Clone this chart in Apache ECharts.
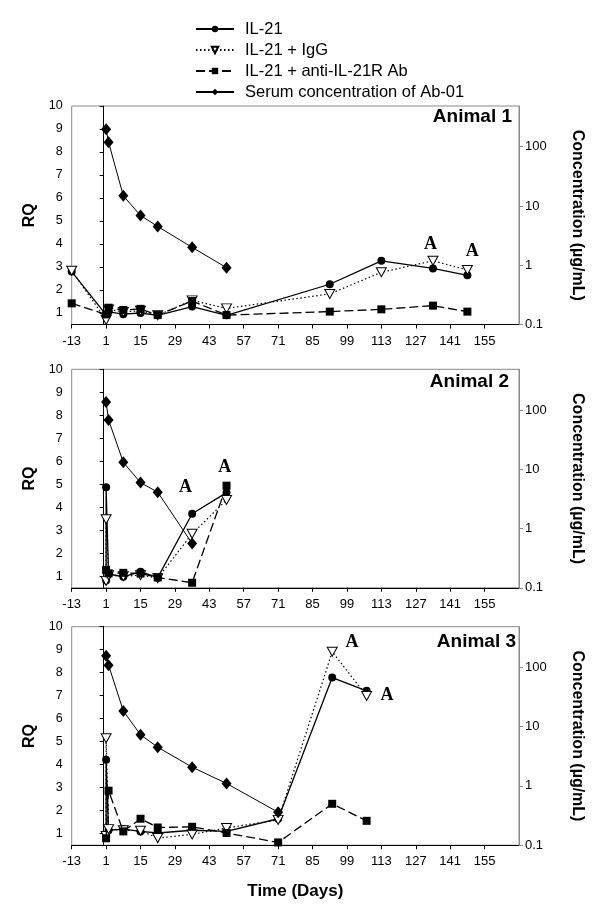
<!DOCTYPE html>
<html>
<head>
<meta charset="utf-8">
<script src="https://cdn.jsdelivr.net/npm/echarts@6/dist/echarts.min.js"></script>
<style>
html, body { margin: 0; padding: 0; background: #fff; }
#chart { width: 600px; height: 917px; }
</style>
</head>
<body>
<div id="chart"></div>
<script>
// axis ticks
const dayTicks = [-13, 1, 15, 29, 43, 57, 71, 85, 99, 113, 127, 141, 155]
const rqTicks = [1, 2, 3, 4, 5, 6, 7, 8, 9, 10]
const concTicks = [0.1, 1, 10, 100]

const seriesNames = ['IL-21', 'IL-21 + IgG', 'IL-21 + anti-IL-21R Ab', 'Serum concentration of Ab-01']
const animalNames = ['Animal 1', 'Animal 2', 'Animal 3']

// Animal 1
const a1Il21Days = [-13, 1, 2, 8, 15, 22, 36, 50, 92, 113, 134, 148]
const a1Il21 = [2.8, 0.92, 1.05, 0.95, 1.0, 0.9, 1.28, 0.9, 2.25, 3.27, 2.94, 2.64]
const a1IgGDays = [-13, 1, 2, 8, 15, 22, 36, 50, 92, 113, 134, 148]
const a1IgG = [2.84, 0.7, 1.15, 1.05, 1.1, 0.9, 1.55, 1.2, 1.83, 2.77, 3.27, 2.87]
const a1AbDays = [-13, 1, 2, 8, 15, 22, 36, 50, 92, 113, 134, 148]
const a1Ab = [1.42, 0.94, 1.23, 1.13, 1.18, 0.91, 1.52, 0.91, 1.06, 1.16, 1.32, 1.06]
const a1SerumDays = [1, 2, 8, 15, 22, 36, 50]
const a1Serum = [196, 119, 14.8, 6.9, 4.5, 2.0, 0.91]
const a1NoteDays = [133, 150]
const a1NoteRQ = [4.0, 3.67]

// Animal 2
const a2Il21Days = [1, 1, 2, 8, 15, 22, 36, 50]
const a2Il21 = [0.82, 4.87, 1.1, 0.98, 1.2, 0.94, 3.72, 4.64]
const a2IgGDays = [1, 1, 2, 8, 15, 22, 36, 50]
const a2IgG = [0.8, 3.48, 1.05, 1.0, 1.05, 0.92, 2.85, 4.32]
const a2AbDays = [1, 2, 8, 15, 22, 36, 50]
const a2Ab = [1.28, 1.13, 1.15, 1.12, 0.95, 0.72, 4.94]
const a2SerumDays = [1, 2, 8, 15, 22, 36]
const a2Serum = [136, 68, 13.1, 5.95, 4.1, 0.56]
const a2NoteDays = [33.3, 49.3]
const a2NoteRQ = [4.85, 5.72]

// Animal 3
const a3Il21Days = [1, 1, 2, 8, 15, 22, 36, 50, 71, 93, 107]
const a3Il21 = [0.86, 4.21, 1.15, 1.2, 1.1, 1.03, 1.15, 1.1, 1.65, 7.79, 7.21]
const a3IgGDays = [1, 1, 2, 8, 15, 22, 36, 50, 71, 93, 107]
const a3IgG = [0.9, 5.15, 1.2, 1.15, 1.13, 0.81, 0.97, 1.25, 1.6, 8.91, 6.99]
const a3AbDays = [1, 2, 8, 15, 22, 36, 50, 71, 93, 107]
const a3Ab = [0.8, 2.87, 1.1, 1.65, 1.27, 1.3, 1.03, 0.62, 2.3, 1.56]
const a3SerumDays = [1, 2, 8, 15, 22, 36, 50, 71]
const a3Serum = [157, 109, 18.4, 7.3, 4.5, 2.07, 1.1, 0.36]
const a3NoteDays = [101, 115.3]
const a3NoteRQ = [9.32, 7.03]

const panels = [
    { days: [a1Il21Days, a1IgGDays, a1AbDays, a1SerumDays], vals: [a1Il21, a1IgG, a1Ab, a1Serum], noteDays: a1NoteDays, noteRQ: a1NoteRQ },
    { days: [a2Il21Days, a2IgGDays, a2AbDays, a2SerumDays], vals: [a2Il21, a2IgG, a2Ab, a2Serum], noteDays: a2NoteDays, noteRQ: a2NoteRQ },
    { days: [a3Il21Days, a3IgGDays, a3AbDays, a3SerumDays], vals: [a3Il21, a3IgG, a3Ab, a3Serum], noteDays: a3NoteDays, noteRQ: a3NoteRQ }
]

const zip = (xs, ys) => xs.map((x, i) => [x, ys[i]])

const FONT = 'Liberation Sans, Arial, sans-serif'
const gridTops = [106, 369.3, 626.7]
const titlePos = [{ right: 88, top: 107 }, { right: 91, top: 372 }, { right: 84, top: 632 }]

// marker + line look for each of the four series
const looks = [
    { symbol: 'circle', symbolSize: 8, line: { color: '#000', width: 1.3, type: 'solid' }, item: { color: '#000' } },
    { symbol: 'path://M0,0 L10,0 L5,9 Z', symbolSize: [10, 9], line: { color: '#000', width: 1.2, type: [1.5, 2.5] }, item: { color: '#fff', borderColor: '#000', borderWidth: 1 } },
    { symbol: 'rect', symbolSize: 8, line: { color: '#000', width: 1.3, type: [9, 4] }, item: { color: '#000' } },
    { symbol: 'diamond', symbolSize: [10, 12], line: { color: '#000', width: 1, type: 'solid' }, item: { color: '#000' } }
]

const chart = echarts.init(document.getElementById('chart'))

const grid = [], xAxis = [], yAxis = [], series = [], title = []
gridTops.forEach((top, i) => {
    grid.push({ left: 71.7, right: 81, top: top, height: 218.5, show: true, borderColor: '#8a8a8a', borderWidth: 1 })
    title.push({
        text: animalNames[i], right: titlePos[i].right, top: titlePos[i].top, padding: 0,
        textStyle: { fontFamily: FONT, fontSize: 19, fontWeight: 'bold', color: '#000' }
    })
    xAxis.push({
        type: 'value', gridIndex: i, min: -13, max: 169, interval: 14,
        axisLine: { lineStyle: { color: '#000', width: 1 } },
        axisTick: { length: 4, lineStyle: { color: '#000' } },
        axisLabel: { showMaxLabel: false, color: '#000', fontSize: 13, fontFamily: FONT, margin: 10 },
        splitLine: { show: false },
        name: i === 2 ? 'Time (Days)' : '',
        nameLocation: 'middle', nameGap: 38,
        nameTextStyle: { fontFamily: FONT, fontSize: 17, fontWeight: 'bold', color: '#000' }
    })
    yAxis.push({
        type: 'value', gridIndex: i, min: 0.5, max: 10,
        axisLine: { show: true, lineStyle: { color: '#000', width: 1 } },
        axisTick: { show: true, length: 4, customValues: rqTicks, lineStyle: { color: '#000' } },
        axisLabel: { customValues: rqTicks, color: '#000', fontSize: 12.5, fontFamily: FONT, margin: 9 },
        splitLine: { show: false },
        name: 'RQ', nameLocation: 'middle', nameGap: 34, nameRotate: 90,
        nameTextStyle: { fontFamily: FONT, fontSize: 16, fontWeight: 'bold', color: '#000' }
    })
    yAxis.push({
        type: 'log', logBase: 10, gridIndex: i, position: 'right', min: 0.1, max: 485,
        axisLine: { show: true, lineStyle: { color: '#8a8a8a', width: 1 } },
        axisTick: { show: true, length: 4, customValues: concTicks, lineStyle: { color: '#8a8a8a' } },
        axisLabel: { customValues: concTicks, color: '#000', fontSize: 13, fontFamily: FONT, margin: 6 },
        splitLine: { show: false },
        name: 'Concentration (\u00b5g/mL)', nameLocation: 'middle', nameGap: 50, nameRotate: -90,
        nameTextStyle: { fontFamily: FONT, fontSize: 16, fontWeight: 'bold', color: '#000' }
    })

    const p = panels[i]
    looks.forEach((lk, k) => {
        series.push({
            name: seriesNames[k], type: 'line',
            xAxisIndex: i, yAxisIndex: k === 3 ? 2 * i + 1 : 2 * i,
            data: zip(p.days[k], p.vals[k]),
            symbol: lk.symbol, symbolSize: lk.symbolSize, showSymbol: true,
            lineStyle: lk.line, itemStyle: lk.item,
            z: 2 + k, animation: false
        })
    })
    // "A" marks
    series.push({
        name: 'note', type: 'scatter', xAxisIndex: i, yAxisIndex: 2 * i,
        data: zip(p.noteDays, p.noteRQ), symbolSize: 0, silent: true,
        itemStyle: { opacity: 1 },
        label: { show: true, position: 'inside', formatter: 'A', color: '#000',
            fontFamily: 'Liberation Serif, Times New Roman, serif', fontWeight: 'bold', fontSize: 18 },
        animation: false
    })
})

chart.setOption({
    animation: false,
    title: title,
    legend: {
        data: seriesNames, orient: 'vertical', left: 195, top: 20.5, padding: 0,
        itemWidth: 38, itemHeight: 8, itemGap: 4,
        textStyle: { fontFamily: FONT, fontSize: 16.5, color: '#000', padding: [0, 0, 0, 6], lineHeight: 16 }
    },
    grid: grid,
    xAxis: xAxis,
    yAxis: yAxis,
    series: series
})

window.addEventListener('resize', () => {
    chart.resize()
})
</script>
</body>
</html>
